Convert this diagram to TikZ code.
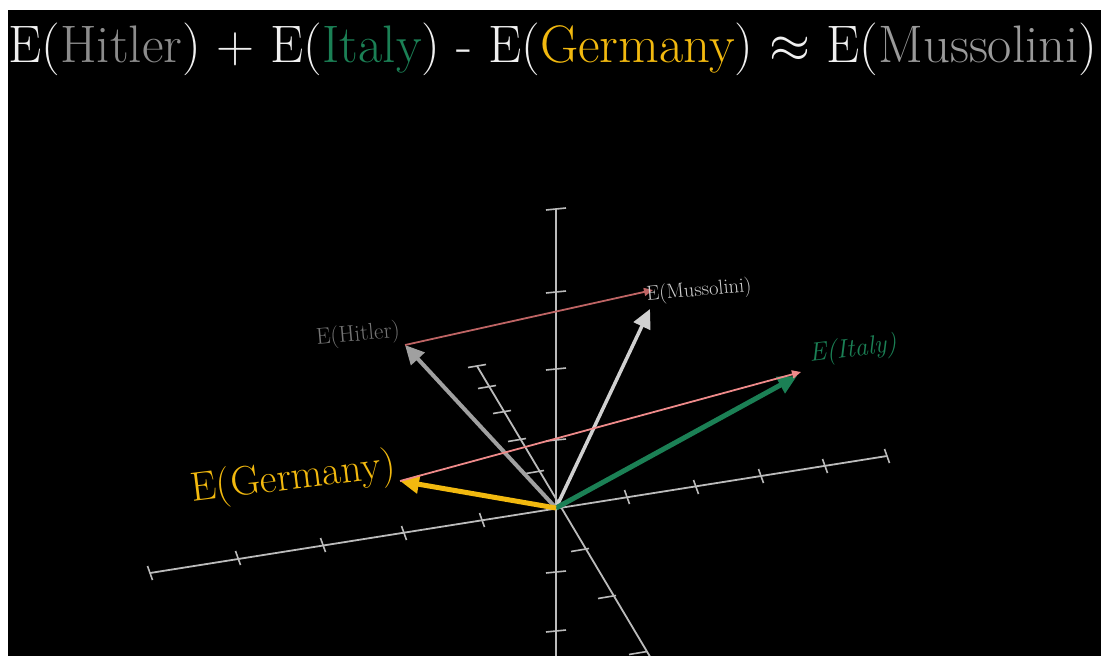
\documentclass[tikz,border=0pt]{standalone}
\usetikzlibrary{arrows.meta}
\definecolor{axisgray}{HTML}{BBBBBB}
\definecolor{titlewhite}{HTML}{F0F0F0}
\definecolor{hitgray}{HTML}{8C8C8C}
\definecolor{musgray}{HTML}{9A9A9A}
\definecolor{hitvec}{HTML}{A0A0A0}
\definecolor{musvec}{HTML}{D0D0D0}
\definecolor{italygreen}{HTML}{1B8055}
\definecolor{gergold}{HTML}{F2B90F}
\definecolor{pinkline}{HTML}{EE8A8A}
\definecolor{pinkdim}{HTML}{BE6464}
\tikzset{
  axisline/.style={draw=axisgray, line width=1.8pt},
  tickline/.style={draw=axisgray, line width=1.6pt},
  vec/.style={line width=#1, -{Triangle[length=19pt,width=18pt]}},
  diffline/.style={line width=1.8pt, -{Triangle[length=9pt,width=8pt]}},
  lab/.style={inner sep=0pt, font=\fontsize{#1}{#1}\selectfont}
}
\begin{document}
\begin{tikzpicture}[x=1pt,y=-1pt]
\fill[white] (0,0) rectangle (1101,656);
\fill[black] (8,10) rectangle (1101,656);
\useasboundingbox (0,0) rectangle (1101,656);
% title
\node[anchor=base, inner sep=0pt, text=titlewhite, font=\fontsize{52.8}{60}\selectfont] (title) at (553,62)
 {E(\textcolor{hitgray}{Hitler}) + E(\textcolor{italygreen}{Italy}) - E(\textcolor{gergold}{Germany}) \scalebox{2.12}{$\approx$} E(\textcolor{musgray}{Mussolini})};
% coordinates
\coordinate (O) at (556,508);
\coordinate (ytop) at (556,209);
\coordinate (ybot) at (556,660);
\coordinate (xl) at (150,573);
\coordinate (xr) at (887,456);
\coordinate (zt) at (477,366);
\coordinate (zb) at (652,660);
% axes
\draw[axisline] (ytop) -- (ybot);
\draw[axisline] (xl) -- (xr);
\draw[axisline] (zt) -- (zb);
% y ticks
\foreach \yy in {209,292,369,440,572,631}
  \draw[tickline] (546,\yy+1) -- (566,\yy-1);
% x ticks
\foreach \xx/\yy in {150/573,238/558,323/545,404/533,482/520,627/497,696/487,761/476,825/466,887/456}
  \draw[tickline] (\xx-2.5,\yy-7) -- (\xx+2.5,\yy+7);
% z ticks
\foreach \xx/\yy in {477/366,487/387,502/412,517/440,535/472,580/550,607/597,638/653}
  \draw[tickline] (\xx-9,\yy+1.5) -- (\xx+9,\yy-1.5);
% vector tips
\coordinate (G) at (400,481);
\coordinate (H) at (405,345);
\coordinate (I) at (801,372);
\coordinate (Ig) at (797,376);
\coordinate (M) at (650,309);
\coordinate (Mt) at (653,290);
% vectors
\draw[vec=4pt, draw=hitvec, fill=hitvec] (O) -- (H);
\draw[vec=3.5pt, draw=musvec, fill=musvec] (O) -- (M);
\draw[vec=5pt, draw=italygreen, fill=italygreen] (O) -- (Ig);
\draw[vec=5pt, draw=gergold, fill=gergold] (O) -- (G);
% difference lines
\draw[diffline, draw=pinkline, fill=pinkline] (G) -- (I);
\draw[diffline, draw=pinkdim, fill=pinkdim] (H) -- (Mt);
% labels
\node[lab=23, text=hitgray!120, rotate=5] (lh) at (358,335) {E(Hitler)};
\node[lab=20.5, text=musvec, rotate=5] (lm) at (699,291) {E(Mussolini)};
\node[lab=26, text=italygreen, rotate=7] (li) at (853,350) {\itshape E(Italy)};
\node[lab=41, text=gergold, rotate=7] (lg) at (293,479) {E(Germany)};
\end{tikzpicture}
\end{document}
